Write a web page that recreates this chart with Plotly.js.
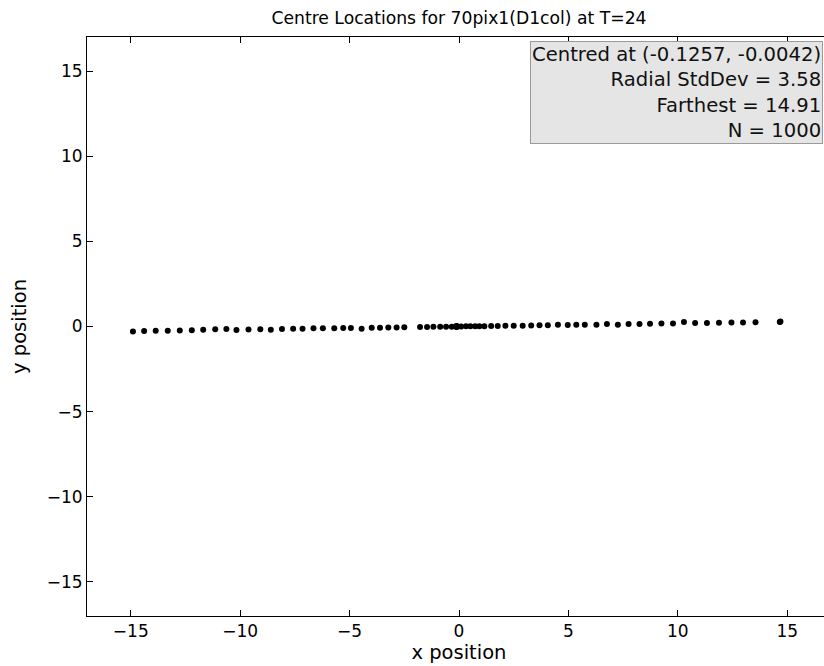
<!DOCTYPE html>
<html>
<head>
<meta charset="utf-8">
<script src="https://cdn.plot.ly/plotly-3.0.1.min.js"></script>
<style>
html, body { margin: 0; padding: 0; overflow: hidden; background: #fff; }
#chart { width: 840px; height: 666px; }
</style>
</head>
<body>
<div id="chart"></div>
<script>
// Centre positions
const xPos = [
  -14.90, -14.39, -13.86, -13.31, -12.76, -12.21, -11.69, -11.14, -10.63, -10.17,
  -9.62, -9.08, -8.60, -8.09, -7.58, -7.15, -6.65, -6.22, -5.70, -5.29,
  -4.94, -4.45, -3.99, -3.61, -3.23, -2.85, -2.50, -1.78, -1.46, -1.17,
  -0.86, -0.59, -0.33, -0.14, -0.12, -0.10, -0.08, 0.10, 0.32,
  0.52, 0.74, 0.93, 1.16, 1.47, 1.77, 2.12, 2.50, 2.91, 3.30,
  3.68, 4.06, 4.52, 4.97, 5.36, 5.75, 6.28, 6.76, 7.26, 7.75,
  8.25, 8.73, 9.25, 9.78, 10.28, 10.79, 11.33, 11.88, 12.45, 12.98,
  13.55, 14.66, 14.69
];
const yPos = [
  -0.29, -0.27, -0.25, -0.25, -0.24, -0.22, -0.19, -0.16, -0.14, -0.21,
  -0.17, -0.16, -0.19, -0.14, -0.13, -0.13, -0.11, -0.11, -0.10, -0.09,
  -0.09, -0.13, -0.07, -0.07, -0.06, -0.06, -0.05, -0.03, -0.03, -0.02,
  -0.02, -0.01, -0.01, 0.02, -0.03, 0.03, -0.01, 0.00, 0.01,
  0.01, 0.01, 0.02, 0.02, 0.03, 0.03, 0.04, 0.05, 0.05, 0.06,
  0.07, 0.08, 0.10, 0.09, 0.10, 0.11, 0.11, 0.14, 0.10, 0.15,
  0.15, 0.16, 0.17, 0.18, 0.27, 0.20, 0.21, 0.22, 0.23, 0.24,
  0.25, 0.27, 0.30
];
const tickVals = [-15, -10, -5, 0, 5, 10, 15];
const statsLines = [
  "Centred at (-0.1257, -0.0042)",
  "Radial StdDev = 3.58",
  "Farthest = 14.91",
  "N = 1000"
];
const titleText = "Centre Locations for 70pix1(D1col) at T=24";

const font = "DejaVu Sans, sans-serif";

const trace = {
  type: "scatter",
  mode: "markers",
  x: xPos,
  y: yPos,
  marker: { color: "#000", size: 6, line: { width: 0 } },
  hoverinfo: "skip"
};

const axisCommon = {
  showgrid: false,
  zeroline: false,
  showline: true,
  linecolor: "#000",
  linewidth: 1,
  mirror: "allticks",
  ticks: "inside",
  ticklen: 6,
  tickwidth: 1,
  tickcolor: "#000",
  tickmode: "array",
  tickvals: tickVals,
  tickfont: { family: font, size: 17, color: "#000" }
};

const layout = {
  width: 840,
  height: 666,
  paper_bgcolor: "#fff",
  plot_bgcolor: "#fff",
  margin: { l: 87, r: 9, t: 37, b: 50 },
  showlegend: false,
  font: { family: font, color: "#000" },
  title: {
    text: titleText,
    font: { family: font, size: 17.2, color: "#000" },
    xref: "paper", x: 0.5, xanchor: "center",
    yref: "container", y: 1 - 18 / 666, yanchor: "middle"
  },
  xaxis: Object.assign({}, axisCommon, {
    range: [-17, 17],
    title: { text: "x position", font: { family: font, size: 19.5, color: "#000" }, standoff: 3 }
  }),
  yaxis: Object.assign({}, axisCommon, {
    range: [-17, 17],
    title: { text: "y position", font: { family: font, size: 19.5, color: "#000" }, standoff: 14 }
  }),
  annotations: [{
    xref: "paper", yref: "paper",
    x: (823 - 87) / 744, y: (616 - 41) / 579,
    xanchor: "right", yanchor: "top",
    align: "right",
    showarrow: false,
    text: statsLines.join("<br>"),
    font: { family: font, size: 19.6, color: "#111" },
    bgcolor: "#e5e5e5",
    bordercolor: "#9a9a9a",
    borderwidth: 1,
    borderpad: 1
  }]
};

Plotly.newPlot("chart", [trace], layout, { staticPlot: true, displayModeBar: false });
</script>
</body>
</html>
